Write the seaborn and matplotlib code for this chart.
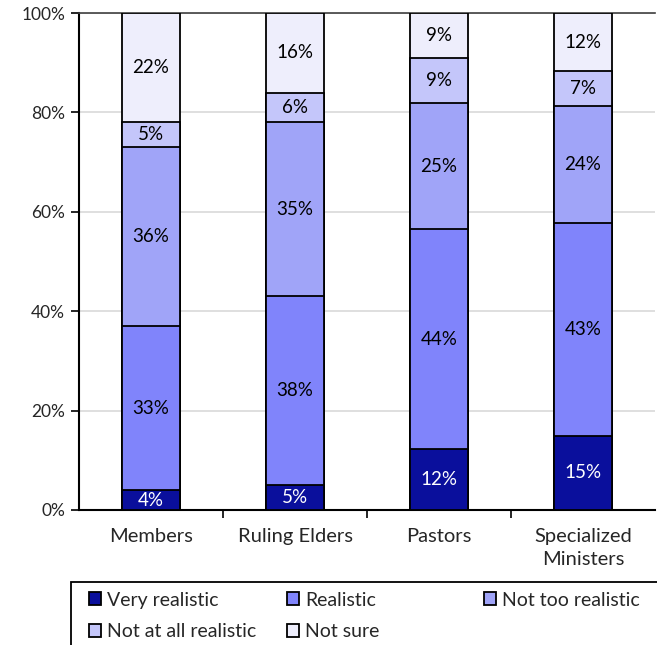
import matplotlib
matplotlib.use("Agg")
import matplotlib.pyplot as plt
from matplotlib.patches import Patch, Rectangle
import numpy as np
import pandas as pd
import seaborn as sns

groups = ["Members", "Ruling Elders", "Pastors", "Specialized\nMinisters"]
responses = ["Very realistic", "Realistic", "Not too realistic",
             "Not at all realistic", "Not sure"]
very_realistic = [4, 5, 12.2, 14.9]
realistic = [33, 38, 44.3, 42.8]
not_too_realistic = [36, 35, 25.4, 23.6]
not_at_all_realistic = [5, 6, 9.0, 7.0]
not_sure = [22, 16, 9.1, 11.7]
colors = ["#0A0F9C", "#8084FB", "#A0A4F8", "#C4C6FA", "#EEEEFC"]

series = [very_realistic, realistic, not_too_realistic,
          not_at_all_realistic, not_sure]
values = np.array(series, dtype=float)
cumulative = values.cumsum(axis=0)

sns.set_theme(style="white")
plt.rcParams["font.family"] = ["Lato", "DejaVu Sans"]

fig = plt.figure(figsize=(6.57, 6.45), dpi=100)
ax = fig.add_axes([79 / 657, 1 - 510 / 645, (655 - 79) / 657, (510 - 13) / 645])

# stacked bars: draw cumulative totals from the top layer down
for i in reversed(range(len(responses))):
    df = pd.DataFrame({"group": groups, "value": cumulative[i]})
    sns.barplot(data=df, x="group", y="value", color=colors[i], width=0.4,
                edgecolor="black", linewidth=1.3, saturation=1, ax=ax, zorder=3)

# segment labels
for i in range(len(responses)):
    for j in range(len(groups)):
        v = values[i, j]
        mid = cumulative[i, j] - v / 2
        ax.text(j, mid, f"{v:.0f}%", ha="center", va="center", fontsize=13.5,
                color="white" if i == 0 else "black", zorder=5)

ax.set_ylim(0, 100)
ax.set_xlim(-0.5, 3.5)
ax.set_yticks(np.arange(0, 101, 20))
ax.set_yticklabels([f"{t}%" for t in range(0, 101, 20)], fontsize=12.5)
ax.set_xticks(range(4))
ax.set_xticklabels(groups, fontsize=14.5, linespacing=1.45)
ax.set_xlabel("")
ax.set_ylabel("")
ax.yaxis.grid(True, color="#D9D9D9", linewidth=1.2, zorder=0)
ax.set_axisbelow(True)

ax.tick_params(axis="x", which="major", length=0, pad=13)
ax.set_xticks([0.5, 1.5, 2.5], minor=True)
ax.tick_params(axis="x", which="minor", length=6, width=1.2, color="black",
               direction="out", bottom=True)
ax.tick_params(axis="y", length=6, width=1.2, color="black", direction="out",
               left=True, pad=4)

for side in ["left", "bottom"]:
    ax.spines[side].set_color("black")
    ax.spines[side].set_linewidth(1.5)
ax.spines["top"].set_color("#404040")
ax.spines["top"].set_linewidth(1.2)
ax.spines["right"].set_visible(False)

# legend frame and columns
fig.add_artist(Rectangle((71 / 657, -0.05), 0.99, 0.05 + (645 - 582) / 645,
                         transform=fig.transFigure, fill=False,
                         edgecolor="black", linewidth=1.3))
columns = [[0, 3], [1, 4], [2]]
col_x = [76, 274, 471]
for idx, xpix in zip(columns, col_x):
    handles = [Patch(facecolor=colors[k], edgecolor="black", linewidth=1.3)
               for k in idx]
    fig.legend(handles, [responses[k] for k in idx],
               loc="upper left", bbox_to_anchor=(xpix / 657, 1 - 579 / 645),
               frameon=False, fontsize=14, handlelength=0.65,
               handleheight=0.65, handletextpad=0.3, labelspacing=0.75,
               borderpad=0.15)

fig.savefig("out.png", dpi=100)
